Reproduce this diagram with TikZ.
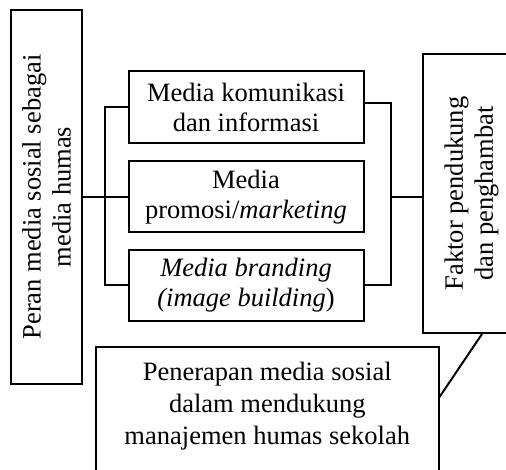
\documentclass[tikz,border=0pt]{standalone}
\usepackage{fontspec}
\setmainfont{Liberation Serif}
\begin{document}
\begin{tikzpicture}[x=1pt,y=-1pt,
  box/.style={draw,line width=2pt,align=center,inner sep=0pt,font=\fontsize{26.5}{30}\selectfont},
  conn/.style={line width=2pt}]
\useasboundingbox (0,0) rectangle (506,470);
\clip (0,0) rectangle (506,470);
\node[box,rotate=90,minimum width=374pt,minimum height=71pt] (lbox) at (46.5,197) {Peran media sosial sebagai\\media humas};
\node[box,minimum width=235pt,minimum height=72pt] (b1) at (246,107) {Media komunikasi\\dan informasi};
\node[box,minimum width=235pt,minimum height=71pt] (b2) at (246,197) {Media\\promosi/\textit{marketing}};
\node[box,minimum width=235pt,minimum height=71pt] (b3) at (246,285.5) {\textit{Media branding}\\\textit{(image building})};
\node[box,rotate=90,minimum width=279pt,minimum height=97pt] (rbox) at (471.5,193.5) {Faktor pendukung\\dan penghambat};
\node[box,font=\fontsize{26.5}{32}\selectfont,minimum width=342.5pt,minimum height=154pt] (bbox) at (267.25,424) {Penerapan media sosial\\dalam mendukung\\manajemen humas sekolah\\\strut};
\draw[conn] (lbox.south) -- (lbox.south -| b2.west);
\draw[conn] (b1.west) -- ++(-22.5,0) |- (b3.west);
\draw[conn] ([yshift=4pt]b1.east) -- ++(26.5,0) |- (b3.east);
\coordinate (rj) at (390,197);
\draw[conn] (rj) -- (rj -| rbox.north);
\draw[conn] (rbox.west -| 482,0) -- (bbox.east |- 0,397);
\end{tikzpicture}
\end{document}
